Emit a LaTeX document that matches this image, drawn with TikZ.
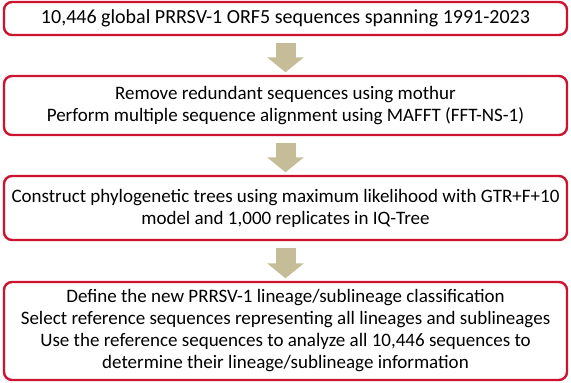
\documentclass[tikz,border=0pt]{standalone}
\usepackage{fontspec}
\setmainfont{Carlito}
\usetikzlibrary{arrows.meta}

\definecolor{boxred}{RGB}{204,20,48}
\definecolor{arrowtan}{RGB}{196,189,151}

\begin{document}
\begin{tikzpicture}[x=1pt, y=-1pt,
    stepbox/.style={draw=boxred, line width=2.4pt, rounded corners=8pt,
      fill=white, align=center, minimum width=563pt,
      font=\fontsize{19}{22}\selectfont, inner sep=0pt},
    flow/.style={draw=arrowtan, line width=20pt,
      -{Triangle[width=36pt, length=15pt]}, shorten <=7pt, shorten >=2.5pt}]
  \useasboundingbox (0,0) rectangle (571,383);

  % Cajas del flujo
  \node[stepbox, minimum height=33pt, font=\fontsize{20}{22}\selectfont]
    (collect) at (285.5,18.5)
    {10,446 global PRRSV-1 ORF5 sequences spanning 1991-2023};
  \node[stepbox, minimum height=59pt] (align) at (285.5,105.5)
    {Remove redundant sequences using mothur\\
     Perform multiple sequence alignment using MAFFT (FFT-NS-1)};
  \node[stepbox, minimum height=64pt] (tree) at (285.5,208)
    {Construct phylogenetic trees using maximum likelihood with GTR+F+10\\
     model and 1,000 replicates in IQ-Tree};
  \node[stepbox, minimum height=98pt] (classify) at (285.5,331)
    {Define the new PRRSV-1 lineage/sublineage classification\\
     Select reference sequences representing all lineages and sublineages\\
     Use the reference sequences to analyze all 10,446 sequences to\\
     determine their lineage/sublineage information};

  % Flechas
  \draw[flow] (collect.south) -- (align.north);
  \draw[flow] (align.south) -- (tree.north);
  \draw[flow] (tree.south) -- (classify.north);
\end{tikzpicture}
\end{document}
